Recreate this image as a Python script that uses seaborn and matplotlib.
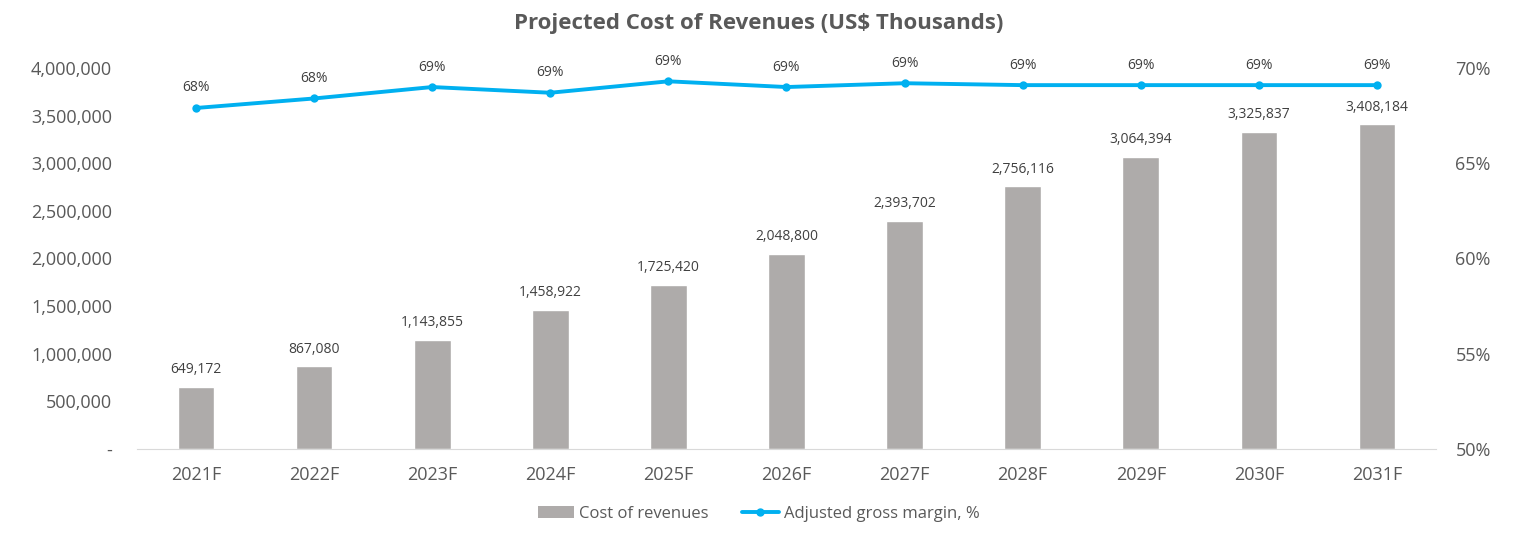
import matplotlib.pyplot as plt
import seaborn as sns
import pandas as pd
from matplotlib.ticker import FuncFormatter, MultipleLocator
from matplotlib.lines import Line2D
from matplotlib.patches import Patch

years = ['2021F', '2022F', '2023F', '2024F', '2025F', '2026F',
         '2027F', '2028F', '2029F', '2030F', '2031F']
cost_of_revenues = [649172, 867080, 1143855, 1458922, 1725420, 2048800,
                    2393702, 2756116, 3064394, 3325837, 3408184]
gross_margin = [67.9, 68.4, 69.0, 68.7, 69.3, 69.0, 69.2, 69.1, 69.1, 69.1, 69.1]

BAR_COLOR = '#AEABAA'
LINE_COLOR = '#00B0F0'
TEXT_COLOR = '#595959'

sns.set_style('white')
plt.rcParams['font.family'] = ['Open Sans', 'DejaVu Sans']

df = pd.DataFrame({'year': years, 'cost': cost_of_revenues, 'margin': gross_margin})

fig = plt.figure(figsize=(15.17, 5.37), dpi=100)
ax = fig.add_axes([0.0903, 0.1639, 0.8563, 0.7095])

sns.barplot(data=df, x='year', y='cost', color=BAR_COLOR, width=0.31,
            saturation=1, ax=ax)
ax.set_ylim(0, 4000000)
ax.yaxis.set_major_locator(MultipleLocator(500000))
ax.yaxis.set_major_formatter(FuncFormatter(lambda v, p: '-' if v == 0 else f'{v:,.0f}'))
ax.set_xlabel('')
ax.set_ylabel('')
ax.tick_params(axis='both', colors=TEXT_COLOR, labelsize=13, length=0)
ax.tick_params(axis='x', pad=12)
ax.tick_params(axis='y', pad=18)
for s in ['top', 'right', 'left']:
    ax.spines[s].set_visible(False)
ax.spines['bottom'].set_color('#D9D9D9')

for bar, val in zip(ax.patches, cost_of_revenues):
    ax.annotate(f'{val:,.0f}', (bar.get_x() + bar.get_width() / 2, val),
                xytext=(0, 7), textcoords='offset points', ha='center', va='bottom',
                fontsize=10, color='#404040')

ax2 = ax.twinx()
sns.lineplot(x=list(range(len(years))), y=gross_margin, ax=ax2, color=LINE_COLOR,
             linewidth=2.8, marker='o', markersize=6, markeredgewidth=0)
ax2.set_ylim(50, 70)
ax2.yaxis.set_major_locator(MultipleLocator(5))
ax2.yaxis.set_major_formatter(FuncFormatter(lambda v, p: f'{v:.0f}%'))
ax2.tick_params(axis='y', colors=TEXT_COLOR, labelsize=13, length=0, pad=14)
for s in ['top', 'right', 'left', 'bottom']:
    ax2.spines[s].set_visible(False)
ax.set_xlim(-0.5, len(years) - 0.5)

for i, m in enumerate(gross_margin):
    ax2.annotate(f'{m:.0f}%', (i, m), xytext=(0, 9), textcoords='offset points',
                 ha='center', va='bottom', fontsize=10, color='#404040')

fig.suptitle('Projected Cost of Revenues (US$ Thousands)', x=0.5, y=0.975,
             fontsize=16, fontweight='bold', color=TEXT_COLOR)

handles = [Patch(facecolor=BAR_COLOR, edgecolor='none'),
           Line2D([0], [0], color=LINE_COLOR, lw=2.8, marker='o', markersize=5)]
fig.legend(handles, ['Cost of revenues', 'Adjusted gross margin, %'],
           loc='center', bbox_to_anchor=(0.5, 0.043), ncol=2, frameon=False,
           fontsize=12, labelcolor=TEXT_COLOR, handlelength=2.2,
           handletextpad=0.3, columnspacing=2.0)

fig.savefig('out.png', dpi=100)
